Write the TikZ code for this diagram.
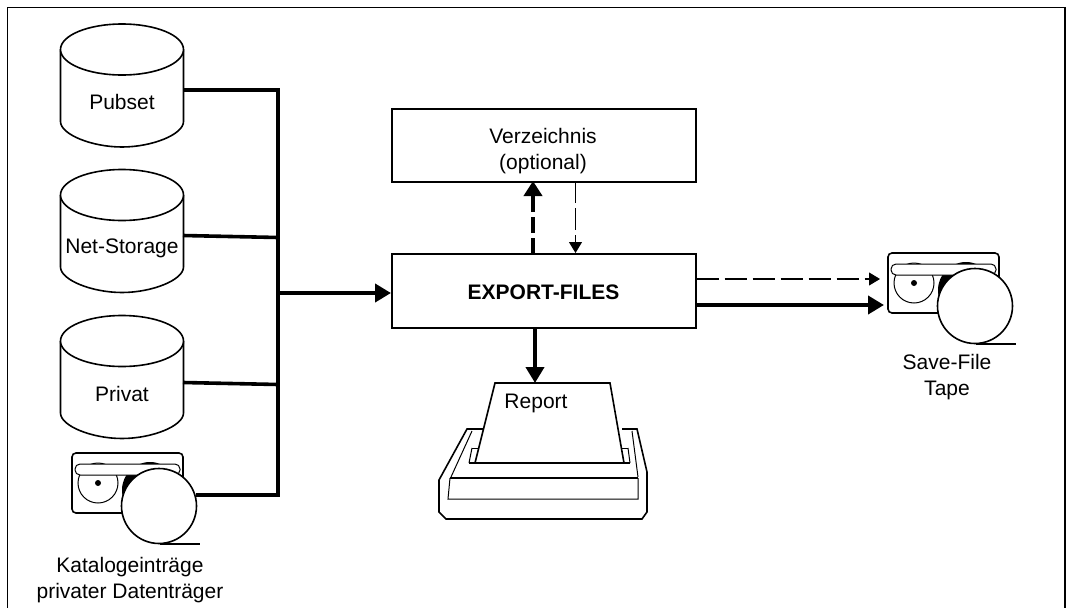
\documentclass[tikz,border=0pt]{standalone}
\usepackage{fontspec}
\setmainfont{Liberation Sans}
\usetikzlibrary{arrows.meta}
\tikzset{
  x=1pt,y=-1pt,
  lab/.style={inner sep=0pt,align=center,font=\fontsize{21}{26}\selectfont},
  outline/.style={draw=black,line width=1.6pt},
  fine/.style={draw=black,line width=1pt},
  box/.style={outline,fill=white,minimum width=304pt,minimum height=73pt,inner sep=0pt,anchor=north west},
  bus/.style={line width=4pt},
  thin bus/.style={line width=3.6pt},
  bighead/.style={-{Triangle[length=16pt,width=18pt]}},
  smallhead/.style={-{Triangle[length=11pt,width=13pt]}},
  tapepic/.pic={
    \draw[outline,rounded corners=4pt] (72,453) rectangle (183,513);
    \fill[black] (150,490) circle[radius=28];
    \draw[fine] (98,483) circle[radius=20];
    \fill[black] (98,483) circle[radius=3];
    \draw[fine,fill=white,rounded corners=5pt] (75,464) rectangle (180,475);
    \draw[outline,fill=white] (159,506) circle[radius=37.5];
    \draw[outline] (160,544) -- (200,544);
  }
}
\newcommand{\cyl}[1]{%
  \draw[outline,fill=white] (60.5,#1+25) -- (60.5,#1+97) .. controls (60.5,#1+110) and (92,#1+122.5) .. (122,#1+122.5) .. controls (152,#1+122.5) and (183.5,#1+110) .. (183.5,#1+97) -- (183.5,#1+25);
  \draw[outline,fill=white] (122,#1+25) ellipse[x radius=61.5,y radius=25.5];
}
\begin{document}
\begin{tikzpicture}
\useasboundingbox (0,0) rectangle (1069,608);
\draw[line width=1.2pt] (7.5,608) -- (7.5,7.5) -- (1065,7.5) -- (1065,608);
% disks
\cyl{24.5}
\cyl{170}
\cyl{316}
\node[lab] (pubset) at (122,102) {Pubset};
\node[lab] (net) at (122,248) {Net-Storage};
\node[lab] (privat) at (122,393.5) {Privat};
\coordinate (pubsetR) at (183,90);
\coordinate (netR) at (183,235.5);
\coordinate (privatR) at (183,382.5);
\coordinate (tapeR) at (196,495);
\coordinate (busTop) at (278,90);
\coordinate (busBot) at (278,495);
\coordinate (netJ) at (278,237.5);
\coordinate (privatJ) at (278,384.5);
\coordinate (busM) at (278,293);
% tapes
\pic at (0,0) {tapepic};
\begin{scope}[shift={(816,-200)}]
\pic at (0,0) {tapepic};
\end{scope}
\node[lab] (kat) at (130,580) {Katalogeinträge\\privater Datenträger};
\node[lab] (save) at (947,377) {Save-File\\Tape};
% boxes
\node[box] (verz) at (391,108) {};
\node[lab] (verztext) at (543,151.5) {Verzeichnis\\(optional)};
\node[box,minimum height=74pt] (exp) at (391,253) {};
\node[lab] (exptext) at (543.5,292.5) {\bfseries EXPORT-FILES};
% bus
\draw[bus,line join=miter] (pubsetR) -- (busTop) -- (busBot) -- (tapeR);
\draw[thin bus] (netR) -- (netJ);
\draw[thin bus] (privatR) -- (privatJ);
\draw[bus,bighead] (busM) -- (exp.west |- busM);
% verz/export
\coordinate (upS) at (533,254);
\coordinate (upE) at (533,181);
\coordinate (dnS) at (575.5,181);
\coordinate (dnE) at (575.5,253);
\draw[line width=4pt,dash pattern=on 16pt off 5pt,-{Triangle[length=15pt,width=18pt]}] (upS) -- (upE);
\draw[line width=1.1pt,dash pattern=on 22pt off 5pt,smallhead] (dnS) -- (dnE);
% printer
\draw[outline,fill=white] (483,429) -- (467,429) -- (439,480) -- (439,512) -- (446,519) -- (642,519) -- (647,512) -- (647,472) -- (637,429) -- (622,429);
\draw[fine] (472,431) -- (451,477);
\draw[fine] (632,431) -- (638,477);
\draw[fine] (472,448) -- (469,463);
\draw[fine] (628,448) -- (630,463);
\draw[fine] (472,448) -- (480,448);
\draw[fine] (620,448) -- (628,448);
\draw[line width=1.2pt] (469,463) -- (630,463);
\draw[line width=1.2pt] (450,478) -- (638,478);
\draw[fine] (450,478) -- (448,499) -- (638,499) -- (638,478);
\draw[outline,fill=white] (475,463) -- (495,383) -- (610,383) -- (624,463);
\draw[line width=1.2pt] (475,463) -- (624,463);
\node[lab] (report) at (536,403) {Report};
\coordinate (paperT) at (535,383);
\draw[bus,bighead] (exp.south -| paperT) -- (paperT);
% to tape
\coordinate (tapeA) at (884,305);
\coordinate (tapeB) at (880,279);
\draw[bus,bighead] (exp.east |- tapeA) -- (tapeA);
\draw[line width=1.1pt,dash pattern=on 22pt off 6pt,smallhead] (exp.east |- tapeB) -- (tapeB);
\end{tikzpicture}
\end{document}
